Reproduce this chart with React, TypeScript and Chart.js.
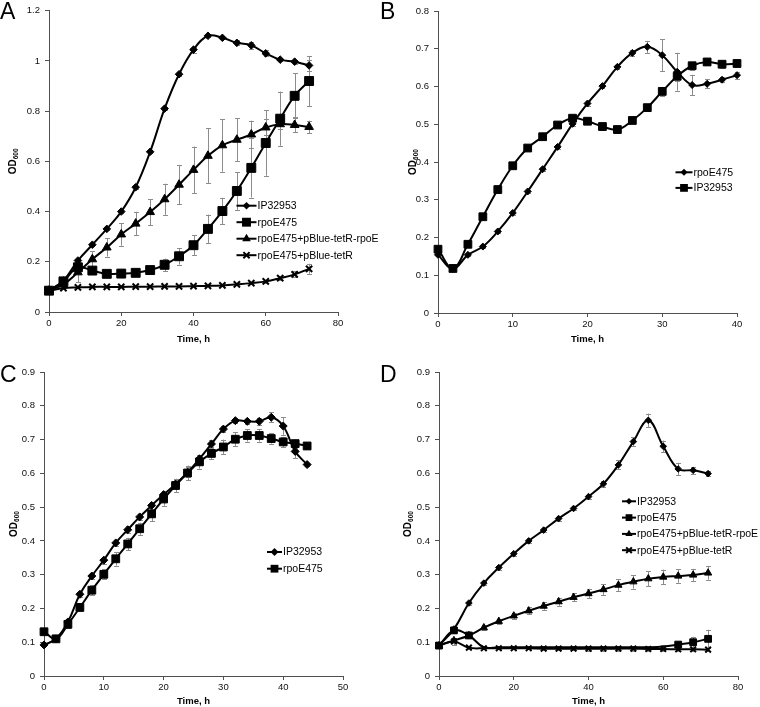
import React, { useEffect, useRef } from 'react';
import { Chart, registerables } from 'chart.js';

Chart.register(...registerables);

const FONT = '"Liberation Sans", Arial, Helvetica, sans-serif';
const AXIS_COLOR = '#505050';
const ERR_COLOR = '#8c8c8c';

// ---------------- Panel A ----------------
const timesA = [0, 4, 8, 12, 16, 20, 24, 28, 32, 36, 40, 44, 48, 52, 56, 60, 64, 68, 72];
const ipA = [0.085, 0.125, 0.205, 0.268, 0.331, 0.4, 0.497, 0.638, 0.81, 0.947, 1.045, 1.1, 1.092, 1.072, 1.062, 1.03, 1.005, 0.997, 0.982];
const ipAErr = [0, 0.004, 0.005, 0.005, 0.005, 0.005, 0.006, 0.006, 0.006, 0.008, 0.012, 0.006, 0.006, 0.01, 0.014, 0.012, 0.006, 0.008, 0.022];
const rpoA = [0.085, 0.122, 0.178, 0.165, 0.152, 0.153, 0.156, 0.167, 0.188, 0.222, 0.266, 0.331, 0.402, 0.482, 0.574, 0.673, 0.77, 0.861, 0.92];
const rpoAErr = [0, 0.004, 0.01, 0.006, 0.005, 0.005, 0.006, 0.01, 0.025, 0.033, 0.04, 0.057, 0.053, 0.075, 0.118, 0.13, 0.108, 0.09, 0.1];
const triA = [0.085, 0.11, 0.158, 0.21, 0.257, 0.309, 0.352, 0.398, 0.449, 0.507, 0.566, 0.622, 0.664, 0.686, 0.707, 0.735, 0.748, 0.745, 0.737];
const triAErr = [0, 0.005, 0.04, 0.032, 0.036, 0.045, 0.047, 0.052, 0.062, 0.078, 0.093, 0.11, 0.105, 0.086, 0.055, 0.032, 0.02, 0.03, 0.025];
const tetA = [0.085, 0.095, 0.098, 0.1, 0.1, 0.1, 0.101, 0.101, 0.102, 0.102, 0.103, 0.104, 0.106, 0.11, 0.115, 0.122, 0.135, 0.15, 0.172];
const tetAErr = [0, 0.002, 0.002, 0.002, 0.002, 0.002, 0.002, 0.002, 0.002, 0.002, 0.002, 0.002, 0.003, 0.003, 0.004, 0.005, 0.008, 0.012, 0.02];

// ---------------- Panel B ----------------
const timesB = [0, 2, 4, 6, 8, 10, 12, 14, 16, 18, 20, 22, 24, 26, 28, 30, 32, 34, 36, 38, 40];
const rpoB = [0.154, 0.117, 0.154, 0.176, 0.216, 0.265, 0.322, 0.381, 0.44, 0.501, 0.555, 0.601, 0.652, 0.689, 0.705, 0.683, 0.639, 0.604, 0.607, 0.618, 0.63];
const rpoBErr = [0.004, 0.003, 0.004, 0.004, 0.004, 0.005, 0.005, 0.005, 0.005, 0.006, 0.006, 0.006, 0.006, 0.008, 0.016, 0.042, 0.05, 0.027, 0.012, 0.006, 0.009];
const ipB = [0.169, 0.118, 0.182, 0.255, 0.327, 0.39, 0.437, 0.467, 0.498, 0.516, 0.508, 0.494, 0.486, 0.51, 0.544, 0.587, 0.627, 0.655, 0.665, 0.659, 0.661];
const ipBErr = [0.006, 0.005, 0.006, 0.006, 0.006, 0.006, 0.006, 0.006, 0.006, 0.008, 0.008, 0.01, 0.01, 0.008, 0.008, 0.012, 0.012, 0.01, 0.008, 0.01, 0.01];

// ---------------- Panel C ----------------
const timesC = [0, 2, 4, 6, 8, 10, 12, 14, 16, 18, 20, 22, 24, 26, 28, 30, 32, 34, 36, 38, 40, 42, 44];
const ipC = [0.092, 0.11, 0.16, 0.242, 0.296, 0.343, 0.394, 0.433, 0.471, 0.505, 0.537, 0.568, 0.603, 0.643, 0.687, 0.731, 0.756, 0.754, 0.754, 0.766, 0.74, 0.665, 0.626];
const ipCErr = [0.003, 0.005, 0.008, 0.008, 0.008, 0.01, 0.01, 0.01, 0.01, 0.01, 0.01, 0.012, 0.015, 0.012, 0.012, 0.01, 0.008, 0.008, 0.01, 0.015, 0.026, 0.02, 0.005];
const rpoC = [0.131, 0.11, 0.153, 0.203, 0.254, 0.301, 0.347, 0.391, 0.436, 0.48, 0.524, 0.564, 0.601, 0.634, 0.659, 0.678, 0.701, 0.712, 0.712, 0.703, 0.693, 0.688, 0.681];
const rpoCErr = [0.005, 0.005, 0.01, 0.012, 0.015, 0.015, 0.02, 0.018, 0.018, 0.022, 0.02, 0.02, 0.022, 0.02, 0.018, 0.022, 0.02, 0.018, 0.018, 0.015, 0.015, 0.012, 0.008];

// ---------------- Panel D ----------------
const timesD = [0, 4, 8, 12, 16, 20, 24, 28, 32, 36, 40, 44, 48, 52, 56, 60, 64, 68, 72];
const ipD = [0.091, 0.139, 0.216, 0.275, 0.321, 0.362, 0.4, 0.432, 0.466, 0.496, 0.531, 0.569, 0.625, 0.694, 0.757, 0.68, 0.613, 0.609, 0.599];
const ipDErr = [0.003, 0.005, 0.006, 0.006, 0.006, 0.006, 0.006, 0.006, 0.006, 0.006, 0.006, 0.008, 0.013, 0.013, 0.02, 0.017, 0.018, 0.01, 0.008];
const rpoD = [0.09, 0.135, 0.12, 0.085, 0.085, 0.085, 0.085, 0.085, 0.085, 0.085, 0.085, 0.085, 0.085, 0.085, 0.085, 0.087, 0.093, 0.1, 0.11];
const rpoDErr = [0, 0.008, 0.008, 0.003, 0.003, 0.003, 0.003, 0.003, 0.003, 0.003, 0.003, 0.003, 0.003, 0.003, 0.003, 0.004, 0.005, 0.016, 0.027];
const triD = [0.09, 0.105, 0.12, 0.143, 0.162, 0.178, 0.193, 0.207, 0.22, 0.233, 0.244, 0.256, 0.269, 0.279, 0.288, 0.293, 0.296, 0.299, 0.305];
const triDErr = [0, 0.005, 0.006, 0.008, 0.008, 0.009, 0.01, 0.011, 0.012, 0.012, 0.014, 0.016, 0.018, 0.02, 0.022, 0.022, 0.02, 0.018, 0.02];
const tetD = [0.091, 0.102, 0.084, 0.082, 0.082, 0.082, 0.082, 0.081, 0.081, 0.081, 0.081, 0.081, 0.081, 0.081, 0.08, 0.08, 0.079, 0.079, 0.078];
const tetDErr = [0.003, 0.01, 0.003, 0.003, 0.003, 0.003, 0.003, 0.003, 0.003, 0.003, 0.006, 0.006, 0.006, 0.006, 0.006, 0.006, 0.004, 0.004, 0.004];
// marker visibility for rpoE475 in D (markers hidden where the curve lies under the tetR curve)
const rpoDMarkerShown = [true, true, true, false, false, false, false, false, false, false, false, false, false, false, false, false, true, true, true];

const LBL_IP = 'IP32953';
const LBL_RPO = 'rpoE475';
const LBL_RESCUE = 'rpoE475+pBlue-tetR-rpoE';
const LBL_TETR = 'rpoE475+pBlue-tetR';
const X_TITLE = 'Time, h';

type MarkerKind = 'diamond' | 'square' | 'triangle' | 'cross';

interface SeriesDef {
  label: string;
  values: number[];
  errors: number[];
  marker: MarkerKind;
  shown?: boolean[];
}

interface PanelDef {
  letter: string;
  left: number;
  top: number;
  width: number;
  height: number;
  area: { left: number; top: number; right: number; bottom: number };
  xMax: number;
  xStep: number;
  yMax: number;
  yStep: number;
  times: number[];
  series: SeriesDef[];
  sizes: Record<MarkerKind, number>;
  legend: { textX: number; y0: number; dy: number; line: number };
  odX: number;
  letterBaseline: number;
  titlePad: number;
}

const POINT_STYLE: Record<MarkerKind, string> = {
  diamond: 'rectRot',
  square: 'rect',
  triangle: 'triangle',
  cross: 'crossRot',
};

const panels: PanelDef[] = [
  {
    letter: 'A',
    left: 0, top: 0, width: 380, height: 350,
    area: { left: 49, top: 10, right: 338, bottom: 312 },
    xMax: 80, xStep: 20, yMax: 1.2, yStep: 0.2,
    times: timesA,
    series: [
      { label: LBL_IP, values: ipA, errors: ipAErr, marker: 'diamond' },
      { label: LBL_RPO, values: rpoA, errors: rpoAErr, marker: 'square' },
      { label: LBL_RESCUE, values: triA, errors: triAErr, marker: 'triangle' },
      { label: LBL_TETR, values: tetA, errors: tetAErr, marker: 'cross' },
    ],
    sizes: { diamond: 3.8, square: 6.3, triangle: 5, cross: 4.4 },
    legend: { textX: 257.5, y0: 205.7, dy: 16.5, line: 20 },
    odX: 13,
    letterBaseline: 18.5,
    titlePad: 5,
  },
  {
    letter: 'B',
    left: 380, top: 0, width: 380, height: 350,
    area: { left: 58, top: 11, right: 357, bottom: 313 },
    xMax: 40, xStep: 10, yMax: 0.8, yStep: 0.1,
    times: timesB,
    series: [
      { label: LBL_RPO, values: rpoB, errors: rpoBErr, marker: 'diamond' },
      { label: LBL_IP, values: ipB, errors: ipBErr, marker: 'square' },
    ],
    sizes: { diamond: 3.5, square: 5.5, triangle: 4.5, cross: 4.5 },
    legend: { textX: 313.5, y0: 172.3, dy: 15.6, line: 17 },
    odX: 33,
    letterBaseline: 18.5,
    titlePad: 5,
  },
  {
    letter: 'C',
    left: 0, top: 350, width: 380, height: 357,
    area: { left: 44, top: 22, right: 343, bottom: 326 },
    xMax: 50, xStep: 10, yMax: 0.9, yStep: 0.1,
    times: timesC,
    series: [
      { label: LBL_IP, values: ipC, errors: ipCErr, marker: 'diamond' },
      { label: LBL_RPO, values: rpoC, errors: rpoCErr, marker: 'square' },
    ],
    sizes: { diamond: 4, square: 5.5, triangle: 4.5, cross: 4.5 },
    legend: { textX: 283, y0: 202, dy: 16.7, line: 15 },
    odX: 14,
    letterBaseline: 32,
    titlePad: 0,
  },
  {
    letter: 'D',
    left: 380, top: 350, width: 380, height: 357,
    area: { left: 59, top: 22, right: 358, bottom: 326 },
    xMax: 80, xStep: 20, yMax: 0.9, yStep: 0.1,
    times: timesD,
    series: [
      { label: LBL_IP, values: ipD, errors: ipDErr, marker: 'diamond' },
      { label: LBL_RPO, values: rpoD, errors: rpoDErr, marker: 'square', shown: rpoDMarkerShown },
      { label: LBL_RESCUE, values: triD, errors: triDErr, marker: 'triangle' },
      { label: LBL_TETR, values: tetD, errors: tetDErr, marker: 'cross' },
    ],
    sizes: { diamond: 3.3, square: 4.8, triangle: 4.2, cross: 4 },
    legend: { textX: 257, y0: 151.3, dy: 16.3, line: 14 },
    odX: 28,
    letterBaseline: 32,
    titlePad: 0,
  },
];

function formatTick(v: number | string) {
  return String(Number(Number(v).toFixed(2)));
}

function drawMarker(ctx: CanvasRenderingContext2D, kind: MarkerKind, x: number, y: number, r: number) {
  ctx.save();
  ctx.fillStyle = '#000';
  ctx.strokeStyle = '#000';
  ctx.beginPath();
  if (kind === 'diamond') {
    ctx.moveTo(x - r, y);
    ctx.lineTo(x, y - r);
    ctx.lineTo(x + r, y);
    ctx.lineTo(x, y + r);
    ctx.closePath();
    ctx.fill();
  } else if (kind === 'square') {
    const s = r * Math.SQRT1_2;
    ctx.rect(x - s, y - s, 2 * s, 2 * s);
    ctx.fill();
  } else if (kind === 'triangle') {
    for (let k = 0; k < 3; k++) {
      const a = (k * 2 * Math.PI) / 3;
      const px = x + Math.sin(a) * r;
      const py = y - Math.cos(a) * r;
      if (k === 0) ctx.moveTo(px, py);
      else ctx.lineTo(px, py);
    }
    ctx.closePath();
    ctx.fill();
  } else {
    const o = r * Math.SQRT1_2;
    ctx.lineWidth = 2;
    ctx.moveTo(x - o, y - o);
    ctx.lineTo(x + o, y + o);
    ctx.moveTo(x - o, y + o);
    ctx.lineTo(x + o, y - o);
    ctx.stroke();
  }
  ctx.restore();
}

function makeOverlay(def: PanelDef) {
  return {
    id: 'overlay' + def.letter,
    beforeDatasetsDraw(chart: any) {
      const ctx: CanvasRenderingContext2D = chart.ctx;
      const xs = chart.scales.x;
      const ys = chart.scales.y;
      ctx.save();
      ctx.strokeStyle = ERR_COLOR;
      ctx.lineWidth = 1;
      def.series.forEach((s) => {
        s.values.forEach((v, k) => {
          const e = s.errors[k];
          if (!e) return;
          const px = Math.round(xs.getPixelForValue(def.times[k])) + 0.5;
          const yTop = ys.getPixelForValue(v + e);
          const yBot = ys.getPixelForValue(v - e);
          if (yBot - yTop < 1.5) return;
          ctx.beginPath();
          ctx.moveTo(px, yTop);
          ctx.lineTo(px, yBot);
          ctx.moveTo(px - 2.5, Math.round(yTop) + 0.5);
          ctx.lineTo(px + 2.5, Math.round(yTop) + 0.5);
          ctx.moveTo(px - 2.5, Math.round(yBot) + 0.5);
          ctx.lineTo(px + 2.5, Math.round(yBot) + 0.5);
          ctx.stroke();
        });
      });
      ctx.restore();
    },
    afterDraw(chart: any) {
      const ctx: CanvasRenderingContext2D = chart.ctx;
      const ca = chart.chartArea;
      ctx.save();
      // legend
      const lg = def.legend;
      def.series.forEach((s, i) => {
        const y = lg.y0 + i * lg.dy;
        const x2 = lg.textX - 1;
        const x1 = x2 - lg.line;
        ctx.strokeStyle = '#000';
        ctx.lineWidth = 2;
        ctx.beginPath();
        ctx.moveTo(x1, y);
        ctx.lineTo(x2, y);
        ctx.stroke();
        drawMarker(ctx, s.marker, (x1 + x2) / 2, y, def.sizes[s.marker]);
        ctx.fillStyle = '#000';
        ctx.font = `10.5px ${FONT}`;
        ctx.textAlign = 'left';
        ctx.textBaseline = 'middle';
        ctx.fillText(s.label, lg.textX, y + 0.5);
      });
      // y axis title OD600
      ctx.save();
      ctx.translate(def.odX, (ca.top + ca.bottom) / 2);
      ctx.rotate(-Math.PI / 2);
      ctx.fillStyle = '#000';
      ctx.textBaseline = 'middle';
      ctx.textAlign = 'left';
      const f1 = `bold 10px ${FONT}`;
      const f2 = `bold 6.5px ${FONT}`;
      ctx.font = f1;
      const w1 = ctx.measureText('OD').width;
      ctx.font = f2;
      const w2 = ctx.measureText('600').width;
      const start = -(w1 + w2) / 2;
      ctx.font = f1;
      ctx.fillText('OD', start, 0);
      ctx.font = f2;
      ctx.fillText('600', start + w1, 3);
      ctx.restore();
      // panel letter
      ctx.fillStyle = '#000';
      ctx.font = `23px ${FONT}`;
      ctx.textAlign = 'left';
      ctx.textBaseline = 'alphabetic';
      ctx.fillText(def.letter, 0, def.letterBaseline);
      ctx.restore();
    },
  };
}

function Panel({ def }: { def: PanelDef }) {
  const ref = useRef<HTMLCanvasElement | null>(null);
  useEffect(() => {
    if (!ref.current) return;
    const datasets = def.series.map((s) => {
      const r = def.sizes[s.marker];
      return {
        label: s.label,
        data: def.times.map((t, k) => ({ x: t, y: s.values[k] })),
        borderColor: '#000',
        backgroundColor: '#000',
        borderWidth: 2,
        pointStyle: POINT_STYLE[s.marker],
        pointRadius: s.shown ? s.shown.map((v) => (v ? r : 0)) : r,
        pointHoverRadius: s.shown ? s.shown.map((v) => (v ? r : 0)) : r,
        pointBackgroundColor: '#000',
        pointBorderColor: '#000',
        pointBorderWidth: s.marker === 'cross' ? 2 : 1,
        tension: 0.4,
        fill: false,
        clip: false,
      };
    });
    const tickFont = { family: FONT, size: 9.5 };
    const chart = new Chart(ref.current, {
      type: 'line',
      data: { datasets } as any,
      plugins: [makeOverlay(def)],
      options: {
        responsive: false,
        maintainAspectRatio: false,
        animation: false,
        events: [],
        layout: {
          padding: {
            left: 0,
            top: def.area.top,
            right: def.width - def.area.right,
            bottom: 0,
          },
        },
        plugins: {
          legend: { display: false },
          tooltip: { enabled: false },
        },
        scales: {
          x: {
            type: 'linear',
            min: 0,
            max: def.xMax,
            ticks: { stepSize: def.xStep, font: tickFont, color: '#111', padding: 2, callback: formatTick },
            grid: { drawOnChartArea: false, drawTicks: true, tickLength: 4, color: AXIS_COLOR },
            border: { color: AXIS_COLOR, width: 1 },
            title: {
              display: true,
              text: X_TITLE,
              color: '#000',
              font: { family: FONT, size: 9.5, weight: 'bold' },
              padding: { top: 0, bottom: def.titlePad },
            },
            afterFit: (s: any) => {
              s.height = def.height - def.area.bottom;
            },
          },
          y: {
            type: 'linear',
            min: 0,
            max: def.yMax,
            ticks: { stepSize: def.yStep, font: tickFont, color: '#111', padding: 5, callback: formatTick },
            grid: { drawOnChartArea: false, drawTicks: true, tickLength: 4, color: AXIS_COLOR },
            border: { color: AXIS_COLOR, width: 1 },
            afterFit: (s: any) => {
              s.width = def.area.left;
            },
          },
        },
      } as any,
    });
    return () => chart.destroy();
  }, [def]);
  return (
    <canvas
      ref={ref}
      width={def.width}
      height={def.height}
      style={{
        position: 'absolute',
        left: def.left,
        top: def.top,
        width: def.width,
        height: def.height,
        display: 'block',
      }}
    />
  );
}

export default function App() {
  return (
    <div
      style={{
        position: 'absolute',
        left: 0,
        top: 0,
        width: 760,
        height: 707,
        overflow: 'hidden',
        background: '#fff',
      }}
    >
      {panels.map((p) => (
        <Panel key={p.letter} def={p} />
      ))}
    </div>
  );
}
